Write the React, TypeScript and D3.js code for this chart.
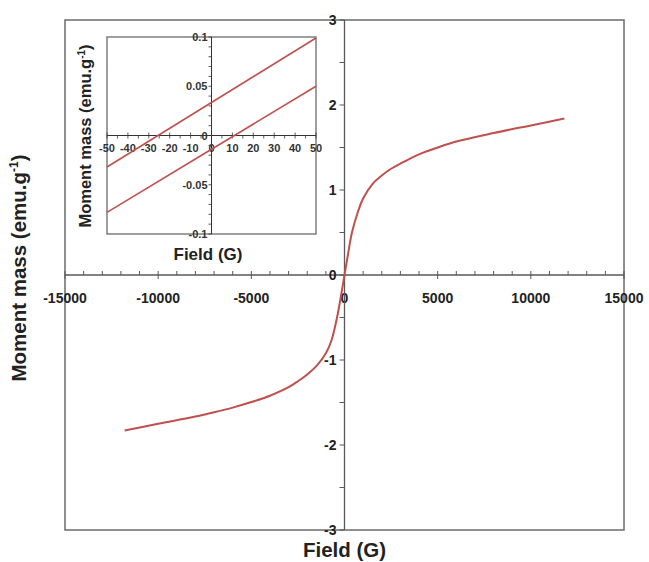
import { useEffect, useRef } from "react";
import * as d3 from "d3";

// main hysteresis curve (Field in G, moment in emu/g)
const fieldMain = [-11800, -10000, -8000, -7000, -6000, -5000, -4000, -3000, -2500, -2000, -1500, -1000, -700, -400, -200, 0,
  200, 400, 700, 1000, 1500, 2000, 2500, 3000, 4000, 5000, 6000, 8000, 10000, 11800];
const momentMain = [-1.83, -1.75, -1.665, -1.615, -1.56, -1.495, -1.42, -1.32, -1.25, -1.17, -1.07, -0.92, -0.77, -0.5, -0.26, 0,
  0.26, 0.5, 0.73, 0.9, 1.07, 1.17, 1.25, 1.31, 1.42, 1.5, 1.57, 1.67, 1.76, 1.84];

// inset: zoom around origin, two branches
const fieldInset = [-50, 0, 50];
const upperBranch = [-0.032, 0.0335, 0.099];
const lowerBranch = [-0.078, -0.014, 0.05];

const xTicksMain = [-15000, -10000, -5000, 0, 5000, 10000, 15000];
const yTicksMain = [-3, -2, -1, 0, 1, 2, 3];
const xTicksInset = [-50, -40, -30, -20, -10, 0, 10, 20, 30, 40, 50];
const yTicksInset = [-0.1, -0.05, 0, 0.05, 0.1];

const W = 649, H = 562;
const RED = "#c0504d";
const AXIS = "#595959";
const FONT = "'Liberation Sans', Arial, sans-serif";

export default function App() {
  const svgRef = useRef<SVGSVGElement>(null);

  useEffect(() => {
    const root = d3.select(svgRef.current);
    root.selectAll("*").remove();

    const x = d3.scaleLinear().domain([-15000, 15000]).range([65, 624]);
    const y = d3.scaleLinear().domain([-3, 3]).range([530, 20]);

    // plot frame
    root.append("rect")
      .attr("x", x(-15000)).attr("y", y(3))
      .attr("width", x(15000) - x(-15000)).attr("height", y(-3) - y(3))
      .attr("fill", "none").attr("stroke", "#6b6b6b").attr("stroke-width", 1.5);

    const g = root.append("g");

    // x axis through y=0
    g.append("line").attr("x1", x(-15000)).attr("x2", x(15000))
      .attr("y1", y(0)).attr("y2", y(0)).attr("stroke", AXIS).attr("stroke-width", 1.3);
    d3.range(-15000, 15001, 1000).forEach(v => {
      const major = v % 5000 === 0;
      g.append("line").attr("x1", x(v)).attr("x2", x(v))
        .attr("y1", y(0) - 4).attr("y2", y(0) + (major ? 4 : 0))
        .attr("stroke", AXIS).attr("stroke-width", 1);
    });
    g.selectAll(".xl").data(xTicksMain).enter().append("text")
      .attr("x", d => x(d)).attr("y", y(0) + 28)
      .attr("text-anchor", "middle")
      .attr("font-family", FONT).attr("font-weight", "bold").attr("font-size", 14)
      .attr("fill", "#222").text(d => d);

    // y axis through x=0
    g.append("line").attr("x1", x(0)).attr("x2", x(0))
      .attr("y1", y(3)).attr("y2", y(-3)).attr("stroke", AXIS).attr("stroke-width", 1.3);
    d3.range(-3, 3.01, 0.5).forEach(v => {
      g.append("line").attr("x1", x(0) - 5).attr("x2", x(0))
        .attr("y1", y(v)).attr("y2", y(v))
        .attr("stroke", AXIS).attr("stroke-width", 1);
    });
    g.selectAll(".yl").data(yTicksMain).enter().append("text")
      .attr("x", x(0) - 8).attr("y", d => y(d) + 5)
      .attr("text-anchor", "end")
      .attr("font-family", FONT).attr("font-weight", "bold").attr("font-size", 14)
      .attr("fill", "#222").text(d => d);

    // main curve
    const line = d3.line<number>()
      .x((d, i) => x(fieldMain[i]))
      .y(d => y(d))
      .curve(d3.curveCatmullRom);
    g.append("path").datum(momentMain).attr("d", line)
      .attr("fill", "none").attr("stroke", RED).attr("stroke-width", 2);

    // axis titles
    root.append("text").attr("x", x(0)).attr("y", 557)
      .attr("text-anchor", "middle")
      .attr("font-family", FONT).attr("font-weight", "bold").attr("font-size", 20.5)
      .attr("fill", "#222").text("Field (G)");
    const yt = root.append("text")
      .attr("transform", `translate(26,${268}) rotate(-90)`)
      .attr("text-anchor", "middle")
      .attr("font-family", FONT).attr("font-weight", "bold").attr("font-size", 20.5)
      .attr("fill", "#222");
    yt.append("tspan").text("Moment mass (emu.g");
    yt.append("tspan").attr("font-size", 12).attr("dy", -8).text("-1");
    yt.append("tspan").attr("dy", 8).text(")");

    // ---- inset ----
    const xi = d3.scaleLinear().domain([-50, 50]).range([107, 316]);
    const yi = d3.scaleLinear().domain([-0.1, 0.1]).range([234, 37]);
    const ins = root.append("g");

    ins.append("rect")
      .attr("x", xi(-50)).attr("y", yi(0.1))
      .attr("width", xi(50) - xi(-50)).attr("height", yi(-0.1) - yi(0.1))
      .attr("fill", "white").attr("stroke", "#6b6b6b").attr("stroke-width", 1.3);

    ins.append("line").attr("x1", xi(-50)).attr("x2", xi(50))
      .attr("y1", yi(0)).attr("y2", yi(0)).attr("stroke", "#333").attr("stroke-width", 1);
    d3.range(-50, 51, 5).forEach(v => {
      const major = v % 10 === 0;
      ins.append("line").attr("x1", xi(v)).attr("x2", xi(v))
        .attr("y1", yi(0) - (major ? 3 : 0)).attr("y2", yi(0) + 3)
        .attr("stroke", "#333").attr("stroke-width", 0.8);
    });
    ins.selectAll(".xil").data(xTicksInset).enter().append("text")
      .attr("x", d => xi(d)).attr("y", yi(0) + 16)
      .attr("text-anchor", "middle")
      .attr("font-family", FONT).attr("font-weight", "bold").attr("font-size", 11)
      .attr("fill", "#333").text(d => d);

    ins.append("line").attr("x1", xi(0)).attr("x2", xi(0))
      .attr("y1", yi(0.1)).attr("y2", yi(-0.1)).attr("stroke", "#333").attr("stroke-width", 1);
    d3.range(-10, 11, 1).forEach(k => {
      const v = k / 100;
      ins.append("line").attr("x1", xi(0) - 3).attr("x2", xi(0))
        .attr("y1", yi(v)).attr("y2", yi(v))
        .attr("stroke", "#333").attr("stroke-width", 0.8);
    });
    ins.selectAll(".yil").data(yTicksInset).enter().append("text")
      .attr("x", xi(0) - 4).attr("y", d => yi(d) + 4)
      .attr("text-anchor", "end")
      .attr("font-family", FONT).attr("font-weight", "bold").attr("font-size", 11)
      .attr("fill", "#333").text(d => d);

    const lineI = d3.line<number>()
      .x((d, i) => xi(fieldInset[i]))
      .y(d => yi(d));
    [upperBranch, lowerBranch].forEach(b => {
      ins.append("path").datum(b).attr("d", lineI)
        .attr("fill", "none").attr("stroke", RED).attr("stroke-width", 1.6);
    });

    ins.append("text").attr("x", 208).attr("y", 260)
      .attr("text-anchor", "middle")
      .attr("font-family", FONT).attr("font-weight", "bold").attr("font-size", 17)
      .attr("fill", "#222").text("Field (G)");
    const yti = ins.append("text")
      .attr("transform", `translate(91,136) rotate(-90)`)
      .attr("text-anchor", "middle")
      .attr("font-family", FONT).attr("font-weight", "bold").attr("font-size", 16.5)
      .attr("fill", "#222");
    yti.append("tspan").text("Moment mass (emu.g");
    yti.append("tspan").attr("font-size", 10).attr("dy", -6).text("-1");
    yti.append("tspan").attr("dy", 6).text(")");
  }, []);

  return (
    <svg ref={svgRef} width={W} height={H}
      style={{ position: "absolute", left: 0, top: 0, background: "white" }} />
  );
}
